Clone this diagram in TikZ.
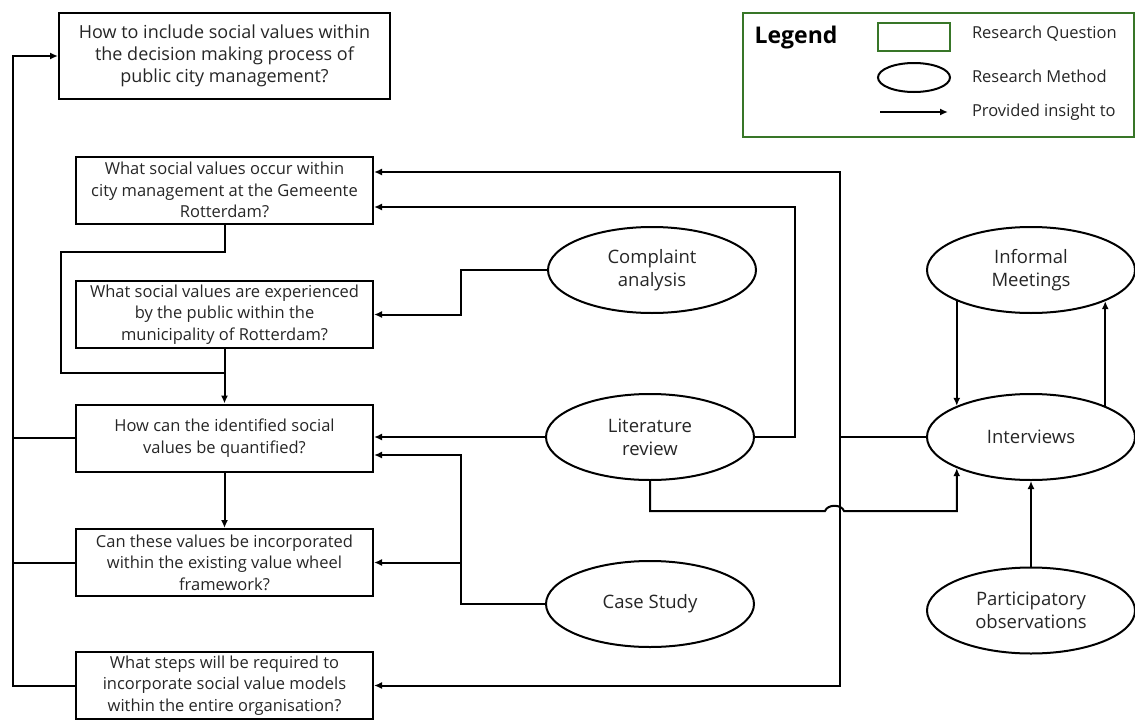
\documentclass[tikz,border=0pt]{standalone}
\usepackage{fontspec}
\setmainfont{Open Sans}
\usetikzlibrary{shapes.geometric, arrows.meta}
\definecolor{legendgreen}{RGB}{56,118,40}
\definecolor{txtgray}{RGB}{38,38,38}

\begin{document}
\begin{tikzpicture}[x=1pt, y=-1pt, line width=2pt,
    question/.style={draw, rectangle, minimum width=297pt, minimum height=67pt, inner sep=0pt,
      align=center, text=txtgray, font=\fontsize{16.5}{21.5}\selectfont},
    method/.style={draw, ellipse, minimum width=208pt, minimum height=86pt, inner sep=0pt,
      align=center, text=txtgray, font=\fontsize{18.5}{23}\selectfont},
    legtext/.style={anchor=west, inner sep=0pt, text=txtgray, font=\fontsize{16.5}{18}\selectfont},
    insight/.style={-{Latex[length=8pt,width=7pt]}}]
  \useasboundingbox (0,0) rectangle (1135,720);

  % research questions
  \node[question, minimum width=331pt, minimum height=86pt, font=\fontsize{18}{22}\selectfont] (main) at (224.5,56)
    {How to include social values within\\the decision making process of\\public city management?};
  \node[question] (q1) at (224.5,190) {What social values occur within\\city management at the Gemeente\\Rotterdam?};
  \node[question] (q2) at (224.5,314.5) {What social values are experienced\\by the public within the\\municipality of Rotterdam?};
  \node[question] (q3) at (224.5,438) {How can the identified social\\values be quantified?};
  \node[question] (q4) at (224.5,562.5) {Can these values be incorporated\\within the existing value wheel\\framework?};
  \node[question] (q5) at (224.5,685.5) {What steps will be required to\\incorporate social value models\\within the entire organisation?};

  % research methods
  \node[method] (comp) at (652,270) {Complaint\\analysis};
  \node[method] (lit) at (650,437) {Literature\\review};
  \node[method] (case) at (650,604) {Case Study};
  \node[method] (info) at (1031,270) {Informal\\Meetings};
  \node[method] (inter) at (1031,437) {Interviews};
  \node[method] (part) at (1031,610.5) {Participatory\\observations};

  % legend
  \node[draw=legendgreen, minimum width=391pt, minimum height=124pt, inner sep=0pt] (legend) at (938,75) {};
  \node[inner sep=0pt, font=\bfseries\fontsize{23}{26}\selectfont] (legtitle) at (796,38) {Legend};
  \node[draw=legendgreen, minimum width=72pt, minimum height=28pt, inner sep=0pt] (legq) at (914,37) {};
  \node[draw, ellipse, minimum width=72pt, minimum height=29pt, inner sep=0pt] (legm) at (914,77.5) {};
  \coordinate (lega) at (880,112);
  \coordinate (legb) at (948,112);
  \draw[insight] (lega) -- (legb);
  \node[legtext] (legqt) at (971,34) {Research Question};
  \node[legtext] (legmt) at (971,76) {Research Method};
  \node[legtext] (legat) at (971,112) {Provided insight to};

  % questions feeding the main question
  \draw[insight] (q5.west) -- (13,685.5) |- (main.west);
  \draw (q3.west) -- (13,438);
  \draw (q4.west) -- (13,562.5);
  \draw (q1.south) -- ++(0,27) -| (61,373) -- (q2.south |- 0,373);
  \draw[insight] (q2.south) -- (q3.north);
  \draw[insight] (q3.south) -- (q4.north);

  % methods feeding the questions
  \draw[insight] (comp.west) -- (461,270) |- (q2.east);
  \draw[insight] (lit.west) -- (lit.west -| q3.east);
  \draw[insight] (lit.east) -- (795,437) |- (q1.east |- 0,207);
  \draw[insight] (case.west) -- (461,604) |- (q3.east |- 0,455);
  \draw[insight] (461,562.5) -- (q4.east);
  \draw[insight] (inter.west) -- (840,437) |- (q1.east |- 0,172);
  \draw[insight] (840,437) |- (q5.east);
  \draw[insight] (lit.south) |- (825,511) to[out=70,in=110] (844,511) -| (inter.south west);

  % methods feeding each other
  \draw[insight] (info.south west) -- (inter.north west);
  \draw[insight] (inter.north east) -- (info.south east);
  \draw[insight] (part.north) -- (inter.south);
\end{tikzpicture}
\end{document}
